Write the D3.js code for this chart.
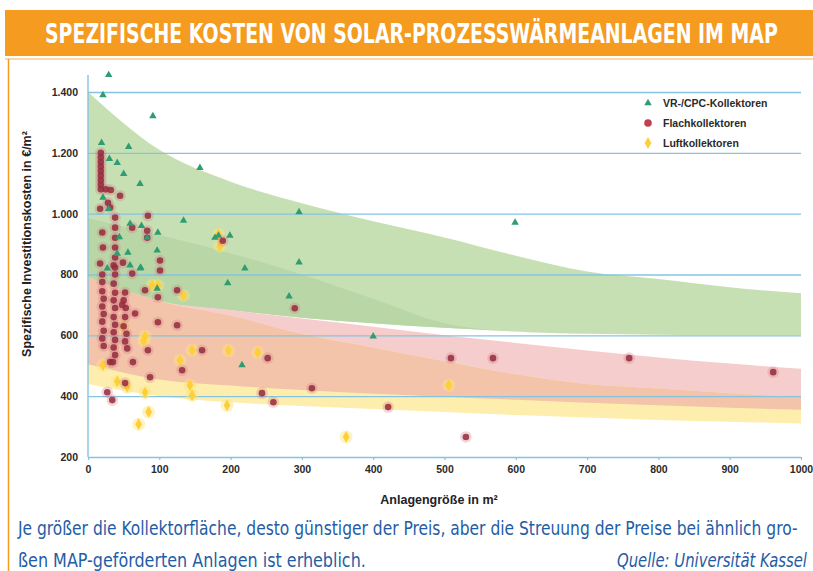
<!DOCTYPE html>
<html>
<head>
<meta charset="utf-8">
<script src="https://cdn.jsdelivr.net/npm/d3@7"></script>
<style>
  body { margin: 0; background: #fff; }
  svg { display: block; }
  .tick text { font-family: "Liberation Sans", Arial, sans-serif; font-weight: bold; font-size: 10.5px; fill: #2a2a2a; }
</style>
</head>
<body>
<div id="chart"></div>
<script>
// Spezifische Kosten von Solar-Prozesswärmeanlagen im MAP

const TITLE = "SPEZIFISCHE KOSTEN VON SOLAR-PROZESSWÄRMEANLAGEN IM MAP";
const X_LABEL = "Anlagengröße in m²";
const Y_LABEL = "Spezifische Investitionskosten in €/m²";
const CAPTION_1 = "Je größer die Kollektorfläche, desto günstiger der Preis, aber die Streuung der Preise bei ähnlich gro-";
const CAPTION_2 = "ßen MAP-geförderten Anlagen ist erheblich.";
const SOURCE = "Quelle: Universität Kassel";

const X_TICKS = [0, 100, 200, 300, 400, 500, 600, 700, 800, 900, 1000];
const Y_TICKS = [200, 400, 600, 800, 1000, 1200, 1400];

// band boundaries read at x = 0, 100, ..., 1000
const bandX        = [0, 100, 200, 300, 400, 500, 600, 700, 800, 900, 1000];
const greenTop     = [1400, 1210, 1105, 1034, 975, 922, 862, 810, 785, 758, 738];
const greenBottom  = [790, 712, 683, 658, 640, 625, 613, 605, 602, 600, 600];
const greenDarkTop = [985, 930, 870, 800, 720, 640, 613, 605, 602, 600, 600];
const pinkTop      = [790, 712, 683, 655, 628, 600, 575, 550, 527, 507, 490];
const pinkBottom   = [505, 455, 435, 420, 408, 398, 388, 378, 370, 362, 355];
const yellowTop    = [790, 712, 665, 605, 560, 515, 472, 440, 425, 410, 397];
const yellowBottom = [440, 400, 380, 368, 358, 348, 338, 330, 322, 316, 310];

// VR-/CPC-Kollektoren
const vrPoints = [
  [29, 1456], [21, 1390], [91, 1321], [19, 1233], [57, 1220], [30, 1180], [41, 1167],
  [50, 1131], [73, 1098], [157, 1151], [134, 977], [183, 928], [199, 928], [220, 820],
  [296, 840], [296, 1005], [29, 1016], [21, 1053], [59, 967], [75, 960], [83, 921],
  [98, 938], [97, 879], [44, 923], [73, 820], [27, 820], [41, 869], [56, 872], [59, 830],
  [196, 772], [282, 728], [216, 502], [400, 597], [599, 971], [74, 823], [97, 754], [178, 921]
];

// Flachkollektoren
const flatPoints = [
  [18, 1200], [18, 1185], [18, 1170], [18, 1155], [18, 1140], [18, 1125], [18, 1110],
  [18, 1095], [18, 1080], [25, 1080], [32, 1078],
  [17, 1016], [28, 1036], [45, 1059], [84, 993], [31, 1020], [38, 987], [38, 954],
  [38, 921], [38, 889], [38, 856], [38, 823], [20, 938], [21, 889], [17, 836], [62, 954],
  [83, 944], [83, 921], [101, 813], [49, 839], [101, 846], [189, 911],
  [20, 800], [20, 775], [20, 745], [22, 720], [20, 695], [22, 670], [20, 645], [22, 615],
  [20, 590], [22, 565],
  [36, 830], [38, 800], [36, 770], [38, 740], [36, 715], [38, 690], [36, 660], [38, 635],
  [36, 610], [38, 585], [36, 560], [38, 535],
  [52, 741], [50, 715], [53, 690], [52, 660], [50, 630], [54, 605], [52, 580], [55, 557], [48, 700],
  [66, 672], [84, 551], [98, 643], [98, 725], [87, 462], [52, 443], [34, 387], [27, 413],
  [63, 512], [31, 512], [35, 512], [62, 803], [125, 633], [132, 485], [160, 551],
  [244, 410], [260, 380], [252, 525], [80, 748], [125, 748], [290, 689], [314, 426],
  [421, 364], [509, 525], [568, 525], [530, 266], [759, 525], [961, 479]
];

// Luftkollektoren
const airPoints = [
  [183, 932], [185, 893], [90, 764], [98, 764], [134, 731], [80, 597], [78, 582], [49, 628],
  [146, 551], [197, 550], [238, 544], [129, 518], [41, 449], [80, 412], [143, 436], [146, 403],
  [195, 370], [85, 348], [71, 308], [21, 502], [55, 430], [506, 436], [362, 266]
];

const LEGEND = ["VR-/CPC-Kollektoren", "Flachkollektoren", "Luftkollektoren"];

const W = 813, H = 571;
const svg = d3.select("#chart").append("svg")
  .attr("width", W)
  .attr("height", H);

const narrow = "'Liberation Sans Narrow', 'DejaVu Sans Condensed', sans-serif";

// put a text at (x0, baseline) and squeeze it horizontally to the given width
function fitText(str, x0, y0, width, size, opts) {
  const t = svg.append("text")
    .style("font-family", narrow)
    .style("font-size", size + "px")
    .style("font-weight", opts.bold ? "bold" : "normal")
    .style("font-style", opts.italic ? "italic" : "normal")
    .attr("fill", opts.color)
    .text(str);
  const natural = t.node().getComputedTextLength();
  t.attr("transform", "translate(" + x0 + "," + y0 + ") scale(" + (width / natural) + ",1)");
  return t;
}

// title bar
svg.append("rect")
  .attr("x", 5).attr("y", 10).attr("width", W - 5).attr("height", 46)
  .attr("fill", "#f49b20");
fitText(TITLE, 45, 43, 733, 27, { bold: true, color: "#fff" });
svg.append("line")
  .attr("x1", 5).attr("x2", W).attr("y1", 59).attr("y2", 59)
  .attr("stroke", "#f7b25a").attr("stroke-width", 1.2);
svg.append("line")
  .attr("x1", 8.5).attr("x2", 8.5).attr("y1", 59).attr("y2", H)
  .attr("stroke", "#f49b20").attr("stroke-width", 1.5);

// scales
const x = d3.scaleLinear().domain([0, 1000]).range([88, 801]);
const y = d3.scaleLinear().domain([200, 1400]).range([457, 92]);

const de = d3.formatLocale({ decimal: ",", thousands: ".", grouping: [3], currency: ["", "€"] });

// bands
function band(top, bottom) {
  return d3.area()
    .curve(d3.curveMonotoneX)
    .x((d, i) => x(bandX[i]))
    .y0((d, i) => y(bottom[i]))
    .y1((d, i) => y(top[i]))(bandX);
}
svg.append("path").attr("d", band(greenTop, greenBottom)).attr("fill", "#c6e0b4");
svg.append("path").attr("d", band(greenDarkTop, greenBottom)).attr("fill", "#b9d7a6");
svg.append("path").attr("d", band(pinkTop, pinkBottom)).attr("fill", "#f5cdcd");
svg.append("path").attr("d", band(yellowTop, yellowBottom)).attr("fill", "#fdeeae");
svg.append("path").attr("d", band(yellowTop, pinkBottom)).attr("fill", "#f3c4aa");

// horizontal grid + y tick labels
const yAxis = svg.append("g")
  .attr("transform", "translate(88,0)")
  .call(d3.axisLeft(y).tickValues(Y_TICKS).tickSize(-(801 - 88)).tickPadding(10).tickFormat(de.format(",")));
yAxis.select(".domain").remove();
yAxis.selectAll(".tick line").attr("stroke", "#86c3e0").attr("stroke-width", 1.4);

// y axis line
svg.append("line")
  .attr("x1", 88).attr("x2", 88).attr("y1", 75).attr("y2", y(200))
  .attr("stroke", "#86c3e0").attr("stroke-width", 1.4);

// x axis ticks + labels
const xAxis = svg.append("g")
  .attr("transform", "translate(0," + y(200) + ")")
  .call(d3.axisBottom(x).tickValues(X_TICKS).tickSize(3).tickPadding(6).tickFormat(d3.format("d")));
xAxis.select(".domain").remove();
xAxis.selectAll(".tick line").attr("stroke", "#86c3e0").attr("stroke-width", 1.2);

// points
const tri = d3.symbol().type(d3.symbolTriangle).size(24);
const dia = d3.symbol().type(d3.symbolDiamond).size(40);

svg.append("g").selectAll("circle")
  .data(airPoints).join("circle")
  .attr("cx", d => x(d[0])).attr("cy", d => y(d[1])).attr("r", 6.5)
  .attr("fill", "#ffe27a").attr("opacity", 0.45);
svg.append("g").selectAll("path")
  .data(airPoints).join("path")
  .attr("d", dia)
  .attr("transform", d => "translate(" + x(d[0]) + "," + y(d[1]) + ")")
  .attr("fill", "#ffcf3a");

svg.append("g").selectAll("circle")
  .data(flatPoints).join("circle")
  .attr("cx", d => x(d[0])).attr("cy", d => y(d[1])).attr("r", 5.8)
  .attr("fill", "#d47a86").attr("opacity", 0.3);
svg.append("g").selectAll("circle")
  .data(flatPoints).join("circle")
  .attr("cx", d => x(d[0])).attr("cy", d => y(d[1])).attr("r", 3.3)
  .attr("fill", "#942a3c").attr("opacity", 0.85);

svg.append("g").selectAll("path")
  .data(vrPoints).join("path")
  .attr("d", tri)
  .attr("transform", d => "translate(" + x(d[0]) + "," + y(d[1]) + ")")
  .attr("fill", "#2f9c72");

// legend
const legend = svg.append("g").attr("transform", "translate(648,103)");
LEGEND.forEach((name, i) => {
  const g = legend.append("g").attr("transform", "translate(0," + i * 20 + ")");
  if (i === 0) g.append("path").attr("d", tri).attr("fill", "#2f9c72");
  if (i === 1) g.append("circle").attr("r", 3.8).attr("fill", "#c0404f");
  if (i === 2) g.append("path").attr("d", dia).attr("fill", "#ffcf3a");
  g.append("text")
    .attr("x", 15).attr("y", 4)
    .style("font-family", "'Liberation Sans', Arial, sans-serif")
    .style("font-weight", "bold").style("font-size", "10.5px")
    .attr("fill", "#2a2a2a")
    .text(name);
});

// axis titles
svg.append("text")
  .attr("transform", "translate(31,244) rotate(-90)")
  .attr("text-anchor", "middle")
  .style("font-family", "'Liberation Sans', Arial, sans-serif")
  .style("font-weight", "bold").style("font-size", "12.5px")
  .attr("fill", "#222")
  .text(Y_LABEL);
svg.append("text")
  .attr("x", 439).attr("y", 504)
  .attr("text-anchor", "middle")
  .style("font-family", "'Liberation Sans', Arial, sans-serif")
  .style("font-weight", "bold").style("font-size", "12.5px")
  .attr("fill", "#222")
  .text(X_LABEL);

// caption
fitText(CAPTION_1, 18, 535, 780, 20, { color: "#1f5da6" });
fitText(CAPTION_2, 18, 567, 348, 20, { color: "#1f5da6" });
fitText(SOURCE, 617, 567, 190, 20, { italic: true, color: "#1f5da6" });
</script>
</body>
</html>
